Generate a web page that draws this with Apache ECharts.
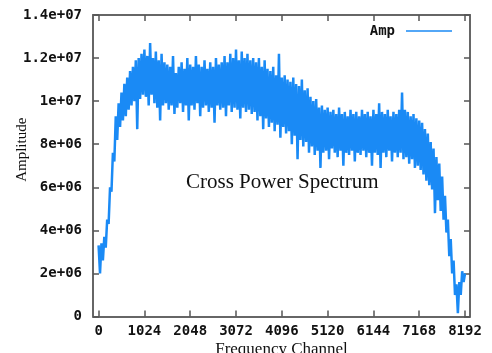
<!DOCTYPE html>
<html><head><meta charset="utf-8">
<script src="https://cdn.jsdelivr.net/npm/echarts@6/dist/echarts.min.js"></script>
<style>html,body{margin:0;padding:0;background:#fff}#c{width:492px;height:353px}</style>
</head><body><div id="c"></div>
<script>
const chartTitle = 'Cross Power Spectrum';
const seriesName = 'Amp';
const xAxisName = 'Frequency Channel';
const yAxisName = 'Amplitude';
const xTickValues = [0, 1024, 2048, 3072, 4096, 5120, 6144, 7168, 8192];
const yTickValues = [0, 2e6, 4e6, 6e6, 8e6, 1e7, 1.2e7, 1.4e7];
const yTickLabels = ['0', '2e+06', '4e+06', '6e+06', '8e+06', '1e+07', '1.2e+07', '1.4e+07'];
const channelStep = 32;          // channels between consecutive samples
const valueUnit = 1e6;           // arrays below are in millions
// upper excursions, at channels 0, 64, 128, ... 8192
const ampUpper = [3.3,3.4,3.7,4.5,6.0,7.6,9.3,9.9,10.4,10.8,11.1,11.4,11.6,11.9,12.0,12.2,
  12.4,12.1,12.7,12.0,12.3,11.9,12.2,11.8,11.7,11.6,12.1,11.3,11.6,11.8,11.5,12.0,
  11.7,11.6,12.1,11.7,11.6,11.9,11.5,11.8,11.6,12.0,11.7,11.8,12.1,11.8,12.2,12.0,
  12.4,11.9,12.3,12.0,12.2,11.9,12.0,11.8,12.0,11.6,11.9,11.5,11.4,11.6,11.2,12.2,
  11.1,11.2,11.0,10.9,11.1,10.8,10.7,11.0,10.5,10.6,10.2,10.0,10.1,9.7,9.8,9.6,
  9.7,9.5,9.6,9.4,9.7,9.4,9.5,9.3,9.6,9.4,9.5,9.3,9.6,9.4,9.5,9.3,
  9.6,9.4,9.9,9.5,9.4,9.6,9.3,9.5,9.4,9.6,10.4,9.6,9.5,9.3,9.4,9.2,
  9.1,9.0,8.7,8.5,8.1,7.8,7.4,7.1,6.5,5.6,4.5,3.6,2.6,1.5,1.6,2.1,2.0];
// lower excursions, at channels 32, 96, 160, ... 8160
const ampLower = [2.0,2.6,3.2,4.3,5.8,7.2,8.2,8.8,9.1,9.3,9.6,9.8,10.0,8.7,10.1,10.3,
  10.2,9.8,10.3,9.9,9.7,9.1,9.8,9.9,9.6,9.8,9.4,9.7,9.9,9.5,9.8,9.1,
  9.8,9.6,9.9,9.3,9.7,9.8,9.5,9.7,9.0,9.8,9.6,9.7,9.3,9.8,9.5,9.7,
  9.6,9.2,9.7,9.5,9.6,9.4,9.5,9.1,9.3,8.7,9.2,8.8,9.0,8.6,8.9,8.3,
  8.8,8.5,8.6,8.0,8.4,7.3,8.2,7.9,8.1,7.6,7.9,7.5,7.7,6.9,7.6,7.7,
  7.3,7.8,7.6,7.4,7.7,7.0,7.6,7.5,7.7,7.2,7.6,7.5,7.7,7.4,7.6,7.0,
  7.6,7.5,6.9,7.6,7.4,7.7,7.2,7.6,7.4,7.6,7.3,7.4,7.1,7.3,6.9,7.0,
  6.8,6.6,6.3,6.1,5.9,4.8,5.4,4.9,4.5,3.9,2.8,2.0,1.0,0.15,1.0,1.6];

const seriesData = [];
for (let i = 0; i < ampUpper.length; i++) {
  seriesData.push([2 * i * channelStep, ampUpper[i] * valueUnit]);
  if (i < ampLower.length) seriesData.push([(2 * i + 1) * channelStep, ampLower[i] * valueUnit]);
}

const lineColor = '#1a8af5';
const monoBold = {fontFamily: 'DejaVu Sans Mono', fontWeight: 'bold', fontSize: 14, color: '#111'};
const frameLine = {show: true, onZero: false, lineStyle: {color: '#666', width: 2}};
const tickStyle = {lineStyle: {color: '#555', width: 1.5}};

const chart = echarts.init(document.getElementById('c'), null, {renderer: 'canvas'});
chart.setOption({
  animation: false,
  backgroundColor: '#fff',
  grid: {left: 93, right: 22, top: 15, bottom: 36.5, containLabel: false, outerBoundsMode: 'none'},
  legend: {
    data: [{name: seriesName, icon: 'rect'}], right: 40, top: 24, align: 'right', padding: 0,
    itemWidth: 46, itemHeight: 1.5, textStyle: {...monoBold, padding: [0, 6, 0, 0]},
    itemStyle: {color: lineColor}
  },
  xAxis: [{
    type: 'value', min: -125, max: 8303, position: 'bottom',
    name: xAxisName, nameLocation: 'middle', nameGap: 25, nameMoveOverlap: false,
    nameTextStyle: {fontFamily: 'Liberation Serif', fontSize: 17, color: '#111'},
    axisLine: frameLine,
    axisTick: {show: true, inside: true, length: 6, customValues: xTickValues, ...tickStyle},
    axisLabel: {show: true, customValues: xTickValues, margin: 8, ...monoBold, formatter: v => String(v)},
    splitLine: {show: false}
  }, {
    type: 'value', min: -125, max: 8303, position: 'top',
    axisLine: frameLine,
    axisTick: {show: true, inside: true, length: 6, customValues: xTickValues, ...tickStyle},
    axisLabel: {show: false},
    splitLine: {show: false}
  }],
  yAxis: [{
    type: 'value', min: 0, max: 1.4e7, interval: 2e6, position: 'left',
    name: yAxisName, nameLocation: 'middle', nameGap: 63, nameRotate: 90, nameMoveOverlap: false,
    nameTextStyle: {fontFamily: 'Liberation Serif', fontSize: 15, color: '#111', padding: [0, 0, 0, 32]},
    axisLine: frameLine,
    axisTick: {show: true, inside: true, length: 6, ...tickStyle},
    axisLabel: {show: true, margin: 11, ...monoBold,
      formatter: v => { const i = yTickValues.indexOf(v); return i >= 0 ? yTickLabels[i] : ''; }},
    splitLine: {show: false}
  }, {
    type: 'value', min: 0, max: 1.4e7, interval: 2e6, position: 'right',
    axisLine: frameLine,
    axisTick: {show: true, inside: true, length: 6, ...tickStyle},
    axisLabel: {show: false},
    splitLine: {show: false}
  }],
  graphic: [{
    type: 'text', left: 186, top: 172,
    style: {text: chartTitle, fontFamily: 'Liberation Serif', fontSize: 21, fill: '#111'}
  }],
  series: [{
    name: seriesName, type: 'line', xAxisIndex: 0, yAxisIndex: 0,
    data: seriesData, symbol: 'none', showSymbol: false,
    lineStyle: {color: lineColor, width: 2.5, join: 'bevel'},
    itemStyle: {color: lineColor}
  }]
});
</script></body></html>
